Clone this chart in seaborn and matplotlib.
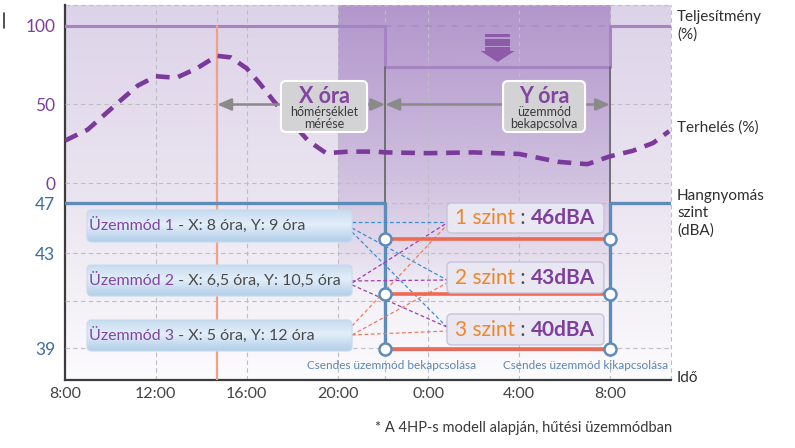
import numpy as np
import matplotlib.pyplot as plt
import matplotlib.patches as mpatches
from matplotlib.lines import Line2D
import seaborn as sns

sns.set_theme(style="white")
plt.rcParams["font.family"] = ["Lato", "DejaVu Sans"]

# ----- donnees -----
x_ticks = [8, 12, 16, 20, 24, 28, 32]
x_labels = ["8:00", "12:00", "16:00", "20:00", "0:00", "4:00", "8:00"]

# Terheles (%) - courbe en pointilles
load_hours = [8.0, 9.0, 9.7, 10.4, 11.2, 12.0, 12.9, 13.8, 14.7, 15.3, 16.0, 16.6,
              17.2, 17.9, 18.7, 19.5, 20.5, 21.7, 22.1, 24.0, 26.0, 28.0, 29.7,
              31.0, 32.0, 33.0, 33.9, 34.6]
load_pct = [27, 34, 43, 52, 62, 68, 67, 73, 81, 80, 73, 63,
            52, 40, 27, 19, 20, 20, 19.5, 19, 19.5, 18.5, 13.5,
            12, 17, 20.5, 25.5, 33]

# Teljesitmeny (%) - escalier
t_measure = 14.7      # debut de la mesure de temperature
t_on = 22.1           # Csendes uzemmod bekapcsolasa
t_off = 32.0          # Csendes uzemmod kikapcsolasa
perf_hours = [8, t_on, t_off, 34.7]
perf_pct = [100, 74, 100, 100]

pct_ticks = [0, 50, 100]
dba_tick_labels = ["47", "43", "", "39"]

level_names = ["1 szint", "2 szint", "3 szint"]
level_dba = [46, 43, 40]

mode_names = ["Üzemmód 1", "Üzemmód 2", "Üzemmód 3"]
mode_x = ["8", "6,5", "5"]
mode_y = ["9", "10,5", "12"]

# ----- mise en page (pixels de l'image 795x448) -----
W, H = 795, 448
X0, X1 = 65, 671
PX_H = 22.71                      # pixels par heure
XMAX = 8 + (X1 - X0) / PX_H
PX_PCT = 1.57                     # pixels par % (panneau haut)
PX_DB = 18.3                      # pixels par dBA (panneau bas)
TOP_YLIM = (-(192 - 183) / PX_PCT, (183 - 5) / PX_PCT)
BOT_YLIM = (40 - (380 - 349) / PX_DB, 40 + (349 - 192) / PX_DB)
DBA_TICK_POS = [40 + (349 - p) / PX_DB for p in (203, 253, 301, 348)]
TOP47 = DBA_TICK_POS[0]

PURPLE = "#7d3f9b"
BLUE_TXT = "#3a6e9e"
BLUE_LINE = "#5e8cba"
RED = "#ee6a52"
ORANGE_TXT = "#f0862a"
GRID = "#bdbdc2"
DARK = "#4a4a4a"

fig = plt.figure(figsize=(W / 100, H / 100), dpi=100)
ax_bg = fig.add_axes([X0 / W, 1 - 380 / H, (X1 - X0) / W, 375 / H])
ax_top = fig.add_axes([X0 / W, 1 - 192 / H, (X1 - X0) / W, 187 / H])
ax_bot = fig.add_axes([X0 / W, 1 - 380 / H, (X1 - X0) / W, 188 / H])
for a in (ax_top, ax_bot):
    a.patch.set_alpha(0)
    for s in a.spines.values():
        s.set_visible(False)

# ----- fond degrade + bande sombre -----
fr = np.linspace(0, 1, 300)
stops = [0, 0.1, 0.5, 1.0]
cols = np.array([[252, 251, 253], [248, 246, 250], [234, 228, 240], [221, 211, 233]]) / 255
img = np.stack([np.interp(fr, stops, cols[:, k]) for k in range(3)], axis=-1)[:, None, :]
ax_bg.imshow(img, extent=[8, XMAX, 0, 1], origin="lower", aspect="auto", zorder=0)
band = np.zeros((300, 1, 4))
band[..., :3] = np.array([150, 110, 185]) / 255
band[:, 0, 3] = np.clip((fr - 0.24) / 0.76, 0, 1) ** 0.8 * 0.6
ax_bg.imshow(band, extent=[20, t_off, 0, 1], origin="lower", aspect="auto", zorder=0.5)
ax_bg.set_xlim(8, XMAX)
ax_bg.set_ylim(0, 1)

for x in x_ticks[1:] + [t_measure, t_on]:
    ax_bg.axvline(x, color=GRID, lw=0.8, ls=(0, (4, 3)), zorder=1)
ax_bg.axhline(1, color=GRID, lw=0.8, ls=(0, (4, 3)), clip_on=False)
ax_bg.axvline(XMAX, color=GRID, lw=0.8, ls=(0, (4, 3)), clip_on=False)
for side in ("top", "right"):
    ax_bg.spines[side].set_visible(False)
for side in ("left", "bottom"):
    ax_bg.spines[side].set_color("#3c3c3c")
    ax_bg.spines[side].set_linewidth(1.6)
ax_bg.set_xticks([])
ax_bg.set_yticks([])

# ----- panneau haut : Teljesitmeny / Terheles -----
ax_top.set_ylim(*TOP_YLIM)
for v in (0, 50):
    ax_top.axhline(v, color=GRID, lw=0.8, ls=(0, (4, 3)))
ax_top.plot([t_on, t_off], [100, 100], color="#a98bc6", lw=1.2, ls=(0, (4, 4)))
sns.lineplot(x=perf_hours, y=perf_pct, ax=ax_top, color="#a684c2", lw=2.2,
             drawstyle="steps-post")
for t in (t_on, t_off):
    ax_top.plot([t, t], [74, TOP_YLIM[0]], color="#6a6a6a", lw=1.3)
ax_top.plot([t_measure, t_measure], [100, TOP_YLIM[0]], color="#f3a089", lw=1.6)
sns.lineplot(x=load_hours, y=load_pct, ax=ax_top, color="#7b3a9b", lw=3.3)
ax_top.lines[-1].set_linestyle((0, (3, 1.9)))

# fleches X / Y
arrow_kw = dict(arrowstyle="<|-|>,head_length=0.7,head_width=0.3", color="#8a8a8a", lw=1.8,
                shrinkA=0, shrinkB=0)
ax_top.annotate("", xy=(t_measure, 50), xytext=(t_on, 50), arrowprops=arrow_kw)
ax_top.annotate("", xy=(t_on, 50), xytext=(t_off, 50), arrowprops=arrow_kw)

asp_top = PX_H / PX_PCT
for (xl, xr), title, sub in [((17.51, 21.30), "X óra", "hőmérséklet\nmérése"),
                             ((27.29, 30.90), "Y óra", "üzemmód\nbekapcsolva")]:
    yb, yt = (183 - 132) / PX_PCT, (183 - 81) / PX_PCT
    ax_top.add_patch(mpatches.FancyBboxPatch(
        (xl, yb), xr - xl, yt - yb, boxstyle="round,pad=0,rounding_size=0.22",
        mutation_aspect=asp_top, fc="#d3d3d6", ec="white", lw=1.5, zorder=4))
    xc = (xl + xr) / 2
    ax_top.text(xc, (183 - 96) / PX_PCT, title, ha="center", va="center", fontsize=15.5,
                fontweight="bold", color="#8444a2", zorder=5)
    ax_top.text(xc, (183 - 117.5) / PX_PCT, sub, ha="center", va="center", fontsize=9,
                color="#3a3a3a", linespacing=1.0, zorder=5)

# icone fleche vers le bas
xc = (t_on + t_off) / 2
pp = lambda p: (183 - p) / PX_PCT
icon = "#8e5ba8"
ax_top.add_patch(mpatches.Rectangle((xc - 0.55, pp(37)), 1.1, pp(34) - pp(37), color=icon, lw=0))
ax_top.add_patch(mpatches.Rectangle((xc - 0.55, pp(45.5)), 1.1, pp(39) - pp(45.5), color=icon, lw=0))
ax_top.add_patch(mpatches.Polygon(
    [(xc - 0.55, pp(47)), (xc + 0.55, pp(47)), (xc + 0.55, pp(51)), (xc + 0.75, pp(51)),
     (xc, pp(62)), (xc - 0.75, pp(51)), (xc - 0.55, pp(51))], closed=True, color=icon, lw=0))

ax_top.set_yticks(pct_ticks)
ax_top.set_yticklabels([str(v) for v in pct_ticks], color=PURPLE, fontsize=12.5)
ax_top.tick_params(axis="y", length=0, pad=7)
ax_top.set_xticks([])
ax_top.set_xlim(8, XMAX)

# ----- panneau bas : Hangnyomas szint -----
ax_bot.set_ylim(*BOT_YLIM)
for p in DBA_TICK_POS:
    ax_bot.axhline(p, color=GRID, lw=0.8, ls=(0, (4, 3)))
ax_bot.axvline(t_measure, color="#f3a089", lw=1.6)
for t in (t_on, t_off):
    ax_bot.plot([t, t], [BOT_YLIM[1], TOP47], color="#6a6a6a", lw=1.3)
sns.lineplot(x=perf_hours, y=[TOP47, 40, TOP47, TOP47], ax=ax_bot, color=BLUE_LINE,
             lw=2.4, drawstyle="steps-post")
ax_bot.hlines(level_dba, t_on, t_off, color=RED, lw=2.6, zorder=3)
sns.scatterplot(x=[t_on] * 3 + [t_off] * 3, y=level_dba * 2, ax=ax_bot, s=75,
                facecolor="white", edgecolor=BLUE_LINE, linewidth=1.8, zorder=6)

# lignes de liaison pointillees (mode -> niveau)
conn_colors = ["#3a8fd0", "#9b3fb0", "#f07a60"]
conn = [[(46.94, 46.94), (46.61, 43.77), (46.39, 41.2)],
        [(43.61, 46.89), (43.72, 43.77), (43.5, 41.2)],
        [(41.26, 46.78), (40.77, 43.61), (40.77, 40.98)]]
for c, segs in zip(conn_colors, conn):
    for y0, y1 in segs:
        ax_bot.plot([20.64, 24.82], [y0, y1], color=c, lw=0.9, ls=(0, (3, 2)), zorder=2)

# boites des modes
asp_bot = PX_H / PX_DB
grad = np.array([[200, 220, 240], [226, 238, 249], [178, 206, 232]]) / 255
fr2 = np.linspace(0, 1, 60)
gimg = np.stack([np.interp(fr2, [0, 0.55, 1], grad[::-1][:, k]) for k in range(3)], axis=-1)[:, None, :]
mode_boxes = [(210, 242), (265, 296), (320, 351)]
for i, (pt, pb) in enumerate(mode_boxes):
    yb, yt = 40 + (349 - pb) / PX_DB, 40 + (349 - pt) / PX_DB
    patch = mpatches.FancyBboxPatch((8.97, yb), 20.64 - 8.97, yt - yb,
                                    boxstyle="round,pad=0,rounding_size=0.2",
                                    mutation_aspect=asp_bot, fc="none", ec="#c7dbee",
                                    lw=0.8, zorder=4)
    ax_bot.add_patch(patch)
    im = ax_bot.imshow(gimg, extent=[8.97, 20.64, yb, yt], origin="lower", aspect="auto",
                       zorder=3.9)
    im.set_clip_path(patch)
    t1 = ax_bot.text(9.07, (yb + yt) / 2, mode_names[i], color="#8444a2", fontsize=11.5,
                     va="center", ha="left", zorder=5)
    ax_bot.annotate(f" - X: {mode_x[i]} óra, Y: {mode_y[i]} óra", xy=(1, 0), xycoords=t1,
                    va="bottom", ha="left", color=DARK, fontsize=11.5, zorder=5)

# boites des niveaux
level_boxes = [(203, 233), (262, 293), (314, 345)]
for i, (pt, pb) in enumerate(level_boxes):
    yb, yt = 40 + (349 - pb) / PX_DB, 40 + (349 - pt) / PX_DB
    ax_bot.add_patch(mpatches.FancyBboxPatch(
        (24.82, yb), 31.73 - 24.82, yt - yb, boxstyle="round,pad=0,rounding_size=0.2",
        mutation_aspect=asp_bot, fc="#e9e7f1", ec="#c6c3dc", lw=1.0, zorder=4))
    t1 = ax_bot.text(25.17, (yb + yt) / 2, level_names[i], color=ORANGE_TXT, fontsize=15,
                     va="center", ha="left", zorder=5)
    t2 = ax_bot.annotate(" : ", xy=(1, 0), xycoords=t1, va="bottom", ha="left",
                         color=DARK, fontsize=15, zorder=5)
    ax_bot.annotate(f"{level_dba[i]}dBA", xy=(1, 0), xycoords=t2, va="bottom", ha="left",
                    color=PURPLE, fontsize=15, fontweight="bold", zorder=5)

ycs = 40 - (365 - 349) / PX_DB
ax_bot.text(8 + (392 - X0) / PX_H, ycs, "Csendes üzemmód bekapcsolása", ha="center",
            va="center", fontsize=8.5, color="#5b86b3")
ax_bot.text(8 + (668 - X0) / PX_H, ycs, "Csendes üzemmód kikapcsolása", ha="right",
            va="center", fontsize=8.5, color="#5b86b3")

ax_bot.set_yticks(DBA_TICK_POS)
ax_bot.set_yticklabels(dba_tick_labels, color=BLUE_TXT, fontsize=12.5)
ax_bot.tick_params(axis="y", length=0, pad=7)
ax_bot.set_xticks(x_ticks)
ax_bot.set_xticklabels(x_labels, color="#444444", fontsize=11.5)
ax_bot.tick_params(axis="x", length=0, pad=5)
ax_bot.set_xlim(8, XMAX)
ax_bot.set_ylim(*BOT_YLIM)

# ----- etiquettes a droite + note -----
fx = 677 / W
fig.text(fx, 1 - 10 / H, "Teljesítmény\n(%)", va="top", ha="left", fontsize=11,
         color="#2e2e2e", linespacing=1.3)
fig.text(fx, 1 - 128 / H, "Terhelés (%)", va="center", ha="left", fontsize=11, color="#2e2e2e")
fig.text(fx, 1 - 189 / H, "Hangnyomás\nszint\n(dBA)", va="top", ha="left", fontsize=11,
         color="#2e2e2e", linespacing=1.3)
fig.text(fx, 1 - 378 / H, "Idő", va="center", ha="left", fontsize=11, color="#2e2e2e")
fig.text(672 / W, 1 - 428 / H, "* A 4HP-s modell alapján, hűtési üzemmódban", ha="right",
         va="center", fontsize=10.5, color="#3a3a3a")
fig.add_artist(Line2D([4 / W, 4 / W], [1 - 13 / H, 1 - 28 / H], color="#333333", lw=1.2))

fig.savefig("out.png", dpi=100)
